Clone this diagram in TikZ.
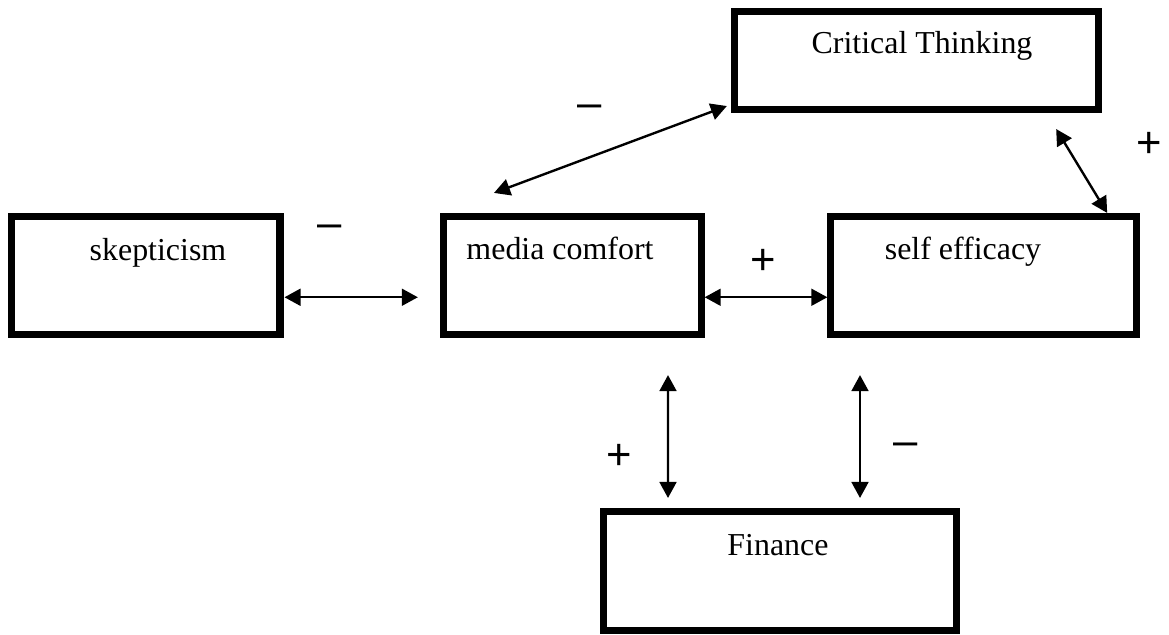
\documentclass[tikz,border=0pt]{standalone}
\usepackage{fontspec}
\setmainfont{Liberation Serif}
\newfontfamily\signfont{Liberation Sans}
\usetikzlibrary{arrows.meta}

\tikzset{
  factor/.style={shape=rectangle, draw, line width=5pt},
  link/.style={line width=1.7pt, {Triangle[length=0.4cm,width=0.42cm]}-{Triangle[length=0.4cm,width=0.42cm]}},
  boxtext/.style={anchor=base, inner sep=0pt, font=\fontsize{22.7}{27}\selectfont},
  relsign/.style={inner sep=0pt, font=\signfont\fontsize{31}{36}\selectfont},
}

\begin{document}
\begin{tikzpicture}[x=0.025cm, y=-0.025cm]
		\useasboundingbox (0,0) rectangle (1169,634);
		% Boxes and their texts:
		\node[factor, minimum width=6.71cm, minimum height=2.94cm](skep) at (145.75,275.25){};
		\node[factor, minimum width=6.43cm, minimum height=2.94cm](media) at (572.5,275.25){};
		\node[factor, minimum width=7.63cm, minimum height=2.94cm](self) at (983.5,275.25){};
		\node[factor, minimum width=9.08cm, minimum height=2.45cm](crit) at (916.5,60.5){};
		\node[factor, minimum width=8.8cm, minimum height=2.975cm](fin) at (780,571){};
		\node[boxtext](skeptext) at (158,260){skepticism};
		\node[boxtext](mediatext) at (560,259){media comfort};
		\node[boxtext](selftext) at (963,259){self efficacy};
		\node[boxtext](crittext) at (922,53){Critical Thinking};
		\node[boxtext](fintext) at (778,555){Finance};
		% Arrows:
		\draw[link] ([shift={(1,22)}]skep.east) -- ([shift={(-22.5,22)}]media.west);
		\draw[link] ([shift={(0,22)}]media.east) -- ([shift={(0,22)}]self.west);
		\draw[link] ([shift={(-78.5,-20)}]media.north) -- ([shift={(-4.5,-7)}]crit.south west);
		\draw[link] ([shift={(-45.5,16)}]crit.south east) -- ([shift={(-32.5,0)}]self.north east);
		\draw[link] ([shift={(95.5,37.5)}]media.south) -- ([shift={(-112,-10)}]fin.north);
		\draw[link] ([shift={(-123.5,37.5)}]self.south) -- ([shift={(80,-10)}]fin.north);
		% Signs:
		\node[relsign](s1) at (330,231){–};
		\node[relsign](s2) at (590,111){–};
		\node[relsign](s3) at (763,262){+};
		\node[relsign](s4) at (1149,145){+};
		\node[relsign](s5) at (619,457){+};
		\node[relsign](s6) at (906,449){–};
	\end{tikzpicture}
\end{document}
